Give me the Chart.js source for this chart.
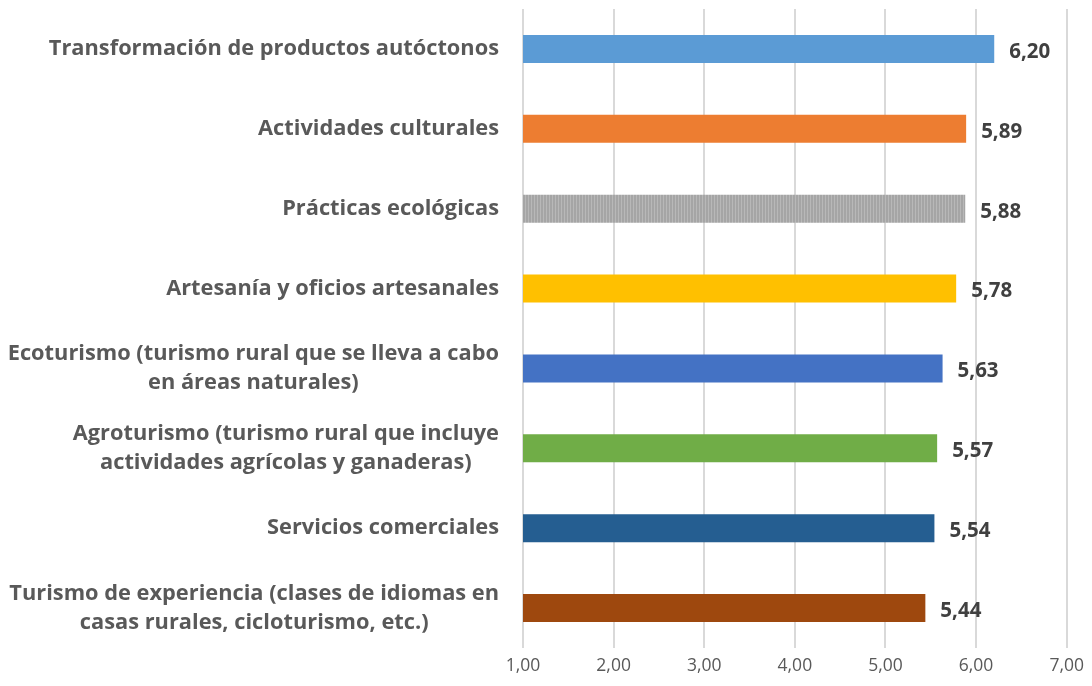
<!DOCTYPE html>
<html><head><meta charset="utf-8">
<script src="https://cdn.jsdelivr.net/npm/chart.js@4"></script>
<style>html,body{margin:0;padding:0;background:#fff;}#wrap{width:1092px;height:686px;}</style>
</head><body><div id="wrap"><canvas id="c" width="1092" height="686"></canvas></div>
<script>
const categories = [
  ["Transformación de productos autóctonos"],
  ["Actividades culturales"],
  ["Prácticas ecológicas"],
  ["Artesanía y oficios artesanales"],
  ["Ecoturismo (turismo rural que se lleva a cabo", "en áreas naturales)"],
  ["Agroturismo (turismo rural que incluye", "actividades agrícolas y ganaderas)"],
  ["Servicios comerciales"],
  ["Turismo de experiencia (clases de idiomas en", "casas rurales, cicloturismo, etc.)"]
];
const values = [6.20, 5.89, 5.88, 5.78, 5.63, 5.57, 5.54, 5.44];
const valueLabels = ["6,20", "5,89", "5,88", "5,78", "5,63", "5,57", "5,54", "5,44"];
const xTickLabels = ["1,00", "2,00", "3,00", "4,00", "5,00", "6,00", "7,00"];
const barColors = ["#5b9bd5", "#ed7d31", "PATTERN", "#ffc000", "#4472c4", "#70ad47", "#255e91", "#9e480e"];

const FONT = "'Open Sans', sans-serif";

function grayPattern(ctx) {
  const pc = document.createElement('canvas');
  pc.width = 3; pc.height = 3;
  const p = pc.getContext('2d');
  p.fillStyle = '#a5a5a5'; p.fillRect(0, 0, 3, 3);
  p.fillStyle = '#b8b8b8'; p.fillRect(0, 0, 1, 3);
  return ctx.createPattern(pc, 'repeat');
}

const canvas = document.getElementById('c');
const ctx = canvas.getContext('2d');
const colors = barColors.map(c => c === 'PATTERN' ? grayPattern(ctx) : c);

const labelPlugin = {
  id: 'labels',
  afterDatasetsDraw(chart) {
    const c = chart.ctx;
    const y = chart.scales.y;
    const meta = chart.getDatasetMeta(0);
    c.save();
    c.font = "bold 21.8px " + FONT;
    c.fillStyle = '#595959';
    c.textBaseline = 'middle';
    c.textAlign = 'center';
    const lh = 29;
    categories.forEach((lines, i) => {
      const cy = y.getPixelForValue(i);
      const w = Math.max(...lines.map(l => c.measureText(l).width));
      const cx = 499 - w / 2;
      const start = cy - (lines.length - 1) * lh / 2;
      lines.forEach((l, k) => c.fillText(l, cx, start + k * lh));
    });
    c.font = "bold 20.5px " + FONT;
    c.fillStyle = '#404040';
    c.textAlign = 'left';
    meta.data.forEach((bar, i) => {
      c.fillText(valueLabels[i], bar.x + 15, bar.y + 3);
    });
    c.restore();
  }
};

new Chart(canvas, {
  type: 'bar',
  data: {
    labels: categories,
    datasets: [{
      data: values,
      backgroundColor: colors,
      borderWidth: 0,
      categoryPercentage: 1,
      barPercentage: 0.35
    }]
  },
  options: {
    indexAxis: 'y',
    responsive: false,
    animation: false,
    layout: { padding: { top: 9, right: 24, left: 0, bottom: 0 } },
    plugins: { legend: { display: false }, tooltip: { enabled: false } },
    scales: {
      x: {
        min: 1, max: 7,
        ticks: {
          stepSize: 1,
          color: '#595959',
          font: { family: FONT, size: 17.5 },
          padding: 8,
          callback: (v, i) => xTickLabels[i]
        },
        grid: { color: '#d9d9d9', lineWidth: 2, drawTicks: false },
        border: { display: false },
        afterFit(s) { s.height = 38; }
      },
      y: {
        ticks: { display: false },
        grid: { display: false },
        border: { display: false },
        afterFit(s) { s.width = 523; }
      }
    }
  },
  plugins: [labelPlugin]
});
</script>
</body></html>
